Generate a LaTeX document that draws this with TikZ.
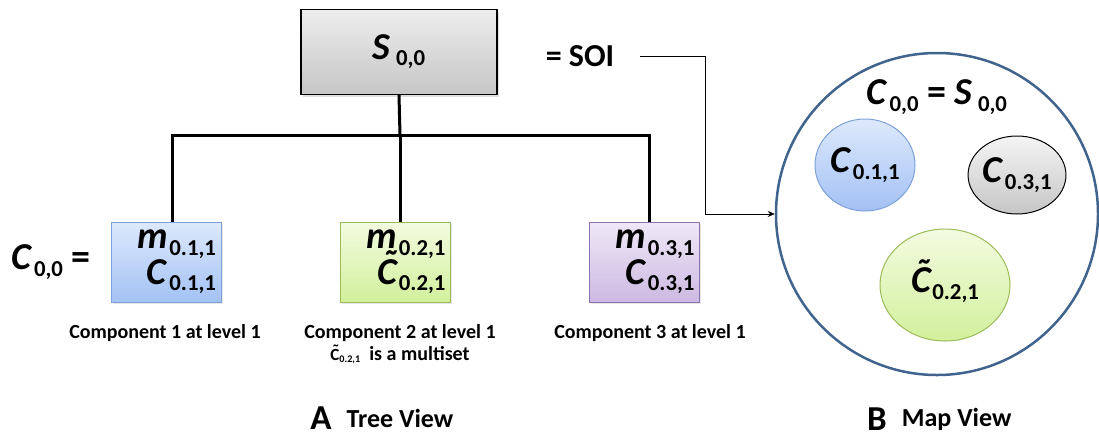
\documentclass[tikz,border=0pt]{standalone}
\usepackage{fontspec}
\setmainfont{Carlito}
\usetikzlibrary{positioning,shapes.geometric,shadows,arrows.meta}

\definecolor{gTop}{HTML}{EDEDED}
\definecolor{gBot}{HTML}{C6C6C6}
\definecolor{bTop}{HTML}{DDE9FC}
\definecolor{bBot}{HTML}{A3C1F4}
\definecolor{bLine}{HTML}{7DA2DA}
\definecolor{vTop}{HTML}{F3FBE0}
\definecolor{vBot}{HTML}{D2F09C}
\definecolor{vLine}{HTML}{9BBB59}
\definecolor{pTop}{HTML}{EFE8F7}
\definecolor{pBot}{HTML}{CDB9E2}
\definecolor{pLine}{HTML}{8C72B0}
\definecolor{mapLine}{HTML}{41648E}

% variable with lowered subscript
\newcommand{\vx}[2]{\textit{#1}\kern0.04em\raisebox{-0.17em}{\scalebox{0.6}{\textup{#2}}}}
% letter with a tilde above it
\newcommand{\tld}[1]{\ooalign{#1\cr\hidewidth\kern0.12em\raisebox{0.2em}{˜}\hidewidth\cr}}

\begin{document}
\begin{tikzpicture}[x=1pt, y=-1pt, font=\bfseries,
  big/.style={font=\bfseries\fontsize{38}{32}\selectfont},
  sbox/.style={draw, rectangle, line width=1.2pt, minimum width=196, minimum height=85, top color=gTop, bottom color=gBot, drop shadow={opacity=0.25, shadow xshift=1.5pt, shadow yshift=-2pt}},
  comp/.style={draw, rectangle, line width=1pt, minimum width=110, minimum height=80, text width=100, align=right, inner xsep=0pt, inner ysep=0pt, drop shadow={opacity=0.2, shadow xshift=1.5pt, shadow yshift=-2pt}, font=\bfseries\fontsize{38}{32}\selectfont},
  blob/.style={draw, ellipse, line width=1pt, font=\bfseries\fontsize{38}{32}\selectfont},
  capt/.style={font=\bfseries\fontsize{20}{22}\selectfont, align=center},
  tree/.style={line width=3pt},
  link/.style={line width=0.8pt, -{Stealth[length=7pt, width=6pt]}}]
\useasboundingbox (0,0) rectangle (1099,440);

% tree view
\node[sbox, big] (s00) at (399,52) {\raisebox{10pt}{\vx{S}{\,0,0}}};
\node[font=\bfseries\fontsize{32}{32}\selectfont] (soi) at (580,56) {= SOI};
\coordinate (bar) at (400,135);
\draw[tree] (s00.south) -- (bar);

\node[comp, top color=bTop, bottom color=bBot, draw=bLine] (c1) at (166,262) {\vx{m}{0.1,1}\\\vx{C}{0.1,1}};
\node[comp, top color=vTop, bottom color=vBot, draw=vLine] (c2) at (395.5,262) {\vx{m}{0.2,1}\\\vx{\tld{C}}{0.2,1}};
\node[comp, top color=pTop, bottom color=pBot, draw=pLine] (c3) at (644.5,262) {\vx{m}{0.3,1}\\\vx{C}{0.3,1}};
\node[big] (c00) at (51,262) {\vx{C}{0,0} =};

\draw[tree] ([xshift=6pt]c1.north) |- (bar) -| ([xshift=5pt]c3.north);
\draw[tree] (bar) -- (bar |- c2.north);

\node[capt] (l1) at (165,333) {Component 1 at level 1};
\node[capt] (l2) at (400,344) {Component 2 at level 1\\{\fontsize{17}{17}\selectfont\tld{C}\raisebox{-2pt}{\scalebox{0.6}{0.2,1}}}\ \ is a multiset};
\node[capt] (l3) at (650,333) {Component 3 at level 1};

\node[font=\bfseries\fontsize{35}{35}\selectfont] (ta) at (321,418) {A};
\node[font=\bfseries\fontsize{26}{26}\selectfont, right=8pt of ta.east, anchor=west] (tv) {Tree View};

% map view
\node[draw=mapLine, circle, line width=2.5pt, minimum size=322] (map) at (937,214) {};
\node[big] (eq) at (937,97) {\vx{C}{0,0} = \vx{S}{\,0,0}};
\node[blob, top color=bTop, bottom color=bBot, draw=bLine, minimum width=100, minimum height=92, inner sep=0pt] (e1) at (865,165) {\vx{C}{0.1,1}};
\node[blob, top color=gTop!60!white, bottom color=gBot, draw=black, minimum width=80, minimum height=78, inner sep=0pt] (e3) at (1017,175) {\vx{C}{0.3,1}};
\node[blob, top color=vTop, bottom color=vBot, draw=vLine, minimum width=130, minimum height=112] (e2) at (945,285) {\vx{\tld{C}}{0.2,1}};

\node[font=\bfseries\fontsize{35}{35}\selectfont] (tb) at (877,419) {B};
\node[font=\bfseries\fontsize{26}{26}\selectfont, right=8pt of tb.east, anchor=west] (mv) {Map View};

\draw[link] ([xshift=22pt]soi.east) -- ++(66,0) |- (map.west);
\end{tikzpicture}
\end{document}
